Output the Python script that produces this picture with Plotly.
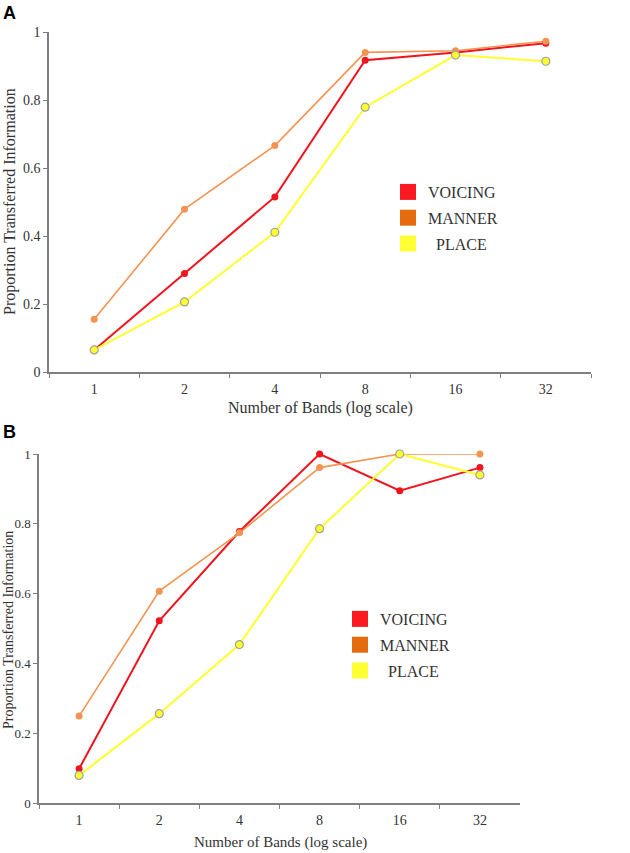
import plotly.graph_objects as go

bands = ["1", "2", "4", "8", "16", "32"]

voicing_a = [0.065, 0.29, 0.515, 0.917, 0.94, 0.967]
manner_a = [0.155, 0.479, 0.666, 0.94, 0.945, 0.973]
place_a = [0.065, 0.206, 0.411, 0.779, 0.932, 0.914]

voicing_b = [0.098, 0.522, 0.778, 1.0, 0.895, 0.961]
manner_b = [0.249, 0.607, 0.774, 0.961, 1.0, 1.0]
place_b = [0.079, 0.256, 0.454, 0.786, 1.0, 0.94]

series_names = ["VOICING", "MANNER", "\u00a0\u00a0PLACE"]
x_title = "Number of Bands (log scale)"
y_title = "Proportion Transferred Information"
line_colors = ["#f0141e", "#f39452", "#ffff2e"]
legend_colors = ["#fb1a22", "#e46c0e", "#ffff33"]
marker_sizes = [7, 7, 8]
line_widths = [2, 1.6, 2]

SERIF = "Liberation Serif, Times New Roman, serif"
SANS = "Liberation Sans, Arial, sans-serif"
W, H = 630, 853

fig = go.Figure()

panels = [
    ("x", "y", "legend", "a", [voicing_a, manner_a, place_a]),
    ("x2", "y2", "legend2", "b", [voicing_b, manner_b, place_b]),
]

for xa, ya, lg, tag, data in panels:
    for i, vals in enumerate(data):
        fig.add_trace(go.Scatter(
            x=bands, y=vals, xaxis=xa, yaxis=ya, mode="lines+markers",
            line=dict(color=line_colors[i], width=line_widths[i]),
            marker=dict(color=line_colors[i], size=marker_sizes[i],
                        line=dict(color="#a0a0a0" if i == 2 else line_colors[i],
                                  width=1.2 if i == 2 else 0)),
            cliponaxis=False, showlegend=False, hoverinfo="skip",
        ))
    for i, name in enumerate(series_names):
        fig.add_trace(go.Scatter(
            x=[None], y=[None], xaxis=xa, yaxis=ya, mode="markers", name=name,
            marker=dict(symbol="square", color=legend_colors[i], size=17,
                        line=dict(width=0)),
            legend=lg, legendgroup=f"{tag}{i}", showlegend=True,
        ))

def x_axis(size):
    return dict(
        type="category", range=[-0.5, 5.5], tickson="boundaries",
        showline=True, linecolor="#7f7f7f", linewidth=1.5,
        ticks="outside", ticklen=4, tickcolor="#7f7f7f", tickwidth=1.2,
        showgrid=False, zeroline=False, automargin=False, ticklabelstandoff=3,
        tickfont=dict(family=SERIF, size=size, color="#333"),
    )

def y_axis(size):
    return dict(
        range=[0, 1], tickvals=[0, 0.2, 0.4, 0.6, 0.8, 1],
        ticktext=["0", "0.2", "0.4", "0.6", "0.8", "1"],
        showline=True, linecolor="#7f7f7f", linewidth=1.5,
        ticks="outside", ticklen=4, tickcolor="#7f7f7f", tickwidth=1.2,
        showgrid=False, zeroline=False, automargin=False,
        tickfont=dict(family=SERIF, size=size, color="#333"),
    )

def px(x):
    return x / W

def py(y):
    return 1 - y / H

annotations = [
    dict(text="<b>A</b>", x=px(1), y=py(1), xanchor="left", yanchor="top",
         font=dict(family=SANS, size=18, color="black")),
    dict(text="<b>B</b>", x=px(1), y=py(420), xanchor="left", yanchor="top",
         font=dict(family=SANS, size=18, color="black")),
    dict(text=x_title, x=px(320), y=py(408), xanchor="center", yanchor="middle",
         font=dict(family=SERIF, size=16, color="#333")),
    dict(text=x_title, x=px(280), y=py(842), xanchor="center", yanchor="middle",
         font=dict(family=SERIF, size=15, color="#333")),
    dict(text=y_title, x=px(10), y=py(202), xanchor="center", yanchor="middle",
         textangle=-90, font=dict(family=SERIF, size=16, color="#333")),
    dict(text=y_title, x=px(8), y=py(630), xanchor="center", yanchor="middle",
         textangle=-90, font=dict(family=SERIF, size=14, color="#333")),
]
for a in annotations:
    a.update(xref="paper", yref="paper", showarrow=False)

fig.update_layout(
    width=W, height=H,
    margin=dict(l=0, r=0, t=0, b=0, autoexpand=False),
    paper_bgcolor="white", plot_bgcolor="white",
    hovermode=False,
    xaxis=dict(x_axis(14), domain=[px(49), px(591)], anchor="y"),
    yaxis=dict(y_axis(14), domain=[py(372), py(32)], anchor="x"),
    xaxis2=dict(x_axis(14), domain=[px(39), px(520)], anchor="y2"),
    yaxis2=dict(y_axis(13), domain=[py(803), py(454)], anchor="x2"),
    legend=dict(x=px(388), y=py(175), xanchor="left", yanchor="top",
                bgcolor="rgba(0,0,0,0)", itemsizing="trace",
                font=dict(family=SERIF, size=16, color="#333"),
                tracegroupgap=2, itemwidth=30),
    legend2=dict(x=px(340), y=py(602), xanchor="left", yanchor="top",
                 bgcolor="rgba(0,0,0,0)", itemsizing="trace",
                 font=dict(family=SERIF, size=16, color="#333"),
                 tracegroupgap=2, itemwidth=30),
    annotations=annotations,
)

fig.write_html("out.html", config={"displayModeBar": False},
               post_script="document.body.style.margin='0';")
